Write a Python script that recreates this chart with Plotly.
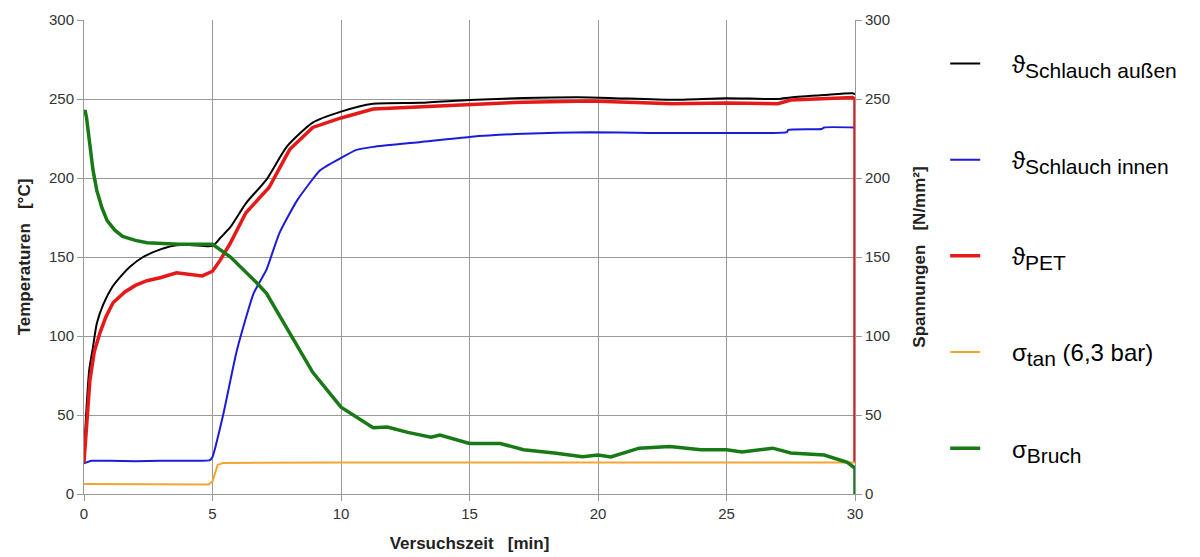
import plotly.graph_objects as go

# ---- data ----
t_aussen = [0, 0.05, 0.1, 0.2, 0.35, 0.5, 0.75, 1.1, 1.5, 1.8, 2.3, 3.0, 3.6, 4.2, 5.0, 5.3, 5.7, 6.3, 7.1, 7.9, 8.9,
            10.0, 11.25, 13.1, 15.0, 17.1, 19.7, 22.9, 25.0, 27.0, 27.5, 28.8, 29.9, 30]
v_aussen = [20, 40, 55, 78, 93, 108, 120, 131, 139, 144, 150, 155, 157.5, 157.5, 157, 162, 169, 184, 199, 220, 235,
            242, 247, 247.6, 249.4, 250.6, 251, 249.5, 250.5, 250, 251, 252.5, 253.6, 253]

t_pet = [0, 0.1, 0.23, 0.4, 0.62, 0.85, 1.13, 1.6, 2.0, 2.45, 3.0, 3.6, 4.2, 4.6, 5.0, 5.3, 5.7, 6.3, 7.2, 8.0, 8.9,
         10.0, 11.25, 13.1, 15.0, 17.1, 19.7, 22.9, 25.0, 27.0, 27.5, 28.8, 29.9, 30, 30]
v_pet = [20, 45, 72, 90, 102, 112, 121, 128, 132, 135, 137, 140, 139, 138, 141, 148, 159, 178, 194, 218, 232,
         238, 243.7, 245, 246, 248, 248.8, 247, 247.5, 247, 249.4, 250.5, 251, 250, 20]

t_innen = [0, 0.3, 1, 2, 3, 4, 4.9, 5.0, 5.4, 5.95, 6.6, 7.1, 7.6, 8.3, 9.2, 10.0, 10.6, 11.25, 13.1, 15.0,
           17.1, 19.7, 22, 25.0, 27.35, 27.4, 28.7, 28.8, 30]
v_innen = [19.5, 21, 21, 20.8, 21, 21, 21.5, 23.4, 49, 91, 127, 142, 165, 186, 205, 212.7, 217.8, 219.7, 222.8, 226,
           228, 229, 228.5, 228.5, 229, 230.4, 231, 232, 232]

t_tan = [0, 4.85, 5.0, 5.2, 5.4, 10, 20, 30]
v_tan = [6.3, 6.0, 8.0, 18.4, 19.6, 20, 20, 20]

t_bruch = [0, 0.04, 0.1, 0.23, 0.35, 0.5, 0.7, 0.9, 1.2, 1.5, 2.0, 2.45, 3.7, 5.0, 5.7, 6.7, 7.1, 8.0, 8.9, 10.0,
           11.25, 11.8, 12.6, 13.5, 13.85, 15.0, 16.2, 17.1, 18.3, 19.4, 20.0, 20.5, 21.6, 22.8, 24.0, 25.0, 25.6,
           26.8, 27.5, 28.8, 29.7, 29.95, 30, 30]
v_bruch = [240, 243, 238, 220, 205, 192, 181, 173, 167, 163, 160.5, 159, 158, 158, 150, 134, 127, 102, 77, 55,
           42, 42.4, 39, 36, 37.3, 32, 32, 28, 26, 23.6, 24.7, 23.5, 29, 30, 28, 28, 26.6,
           29, 26, 24.7, 20, 17, 17, 0]

x_ticks = [0, 5, 10, 15, 20, 25, 30]
y_ticks = [0, 50, 100, 150, 200, 250, 300]

FONT = "Liberation Sans, Arial, sans-serif"
SUBSZ = 21
PAD = "    "

names = [
    PAD + "ϑ<sub><span style='font-size:%dpx'>Schlauch außen</span></sub>" % SUBSZ,
    PAD + "ϑ<sub><span style='font-size:%dpx'>Schlauch innen</span></sub>" % SUBSZ,
    PAD + "ϑ<sub><span style='font-size:%dpx'>PET</span></sub>" % SUBSZ,
    PAD + "σ<sub><span style='font-size:%dpx'>tan</span></sub> (6,3 bar)" % SUBSZ,
    PAD + "σ<sub><span style='font-size:%dpx'>Bruch</span></sub>" % SUBSZ,
]

fig = go.Figure()
fig.add_trace(go.Scatter(x=t_aussen, y=v_aussen, mode="lines", name=names[0], legendgroup="a",
                         line=dict(color="#000000", width=2, shape="spline", smoothing=0.6)))
fig.add_trace(go.Scatter(x=t_innen, y=v_innen, mode="lines", name=names[1], legendgroup="b",
                         line=dict(color="#1c1cd8", width=2, shape="spline", smoothing=0.5)))
fig.add_trace(go.Scatter(x=t_pet, y=v_pet, mode="lines", name=names[2], legendgroup="c",
                         line=dict(color="#e61919", width=3.5)))
fig.add_trace(go.Scatter(x=t_tan, y=v_tan, mode="lines", name=names[3], legendgroup="d", yaxis="y2",
                         line=dict(color="#f2a630", width=2)))
fig.add_trace(go.Scatter(x=t_bruch, y=v_bruch, mode="lines", name=names[4], legendgroup="e", yaxis="y2",
                         line=dict(color="#177a17", width=3.5)))

tickfont = dict(family=FONT, size=15, color="#333333")
axis_common = dict(showgrid=True, gridcolor="#999999", gridwidth=1, showline=True, linecolor="#999999",
                   linewidth=1, ticks="outside", ticklen=6, tickcolor="#999999", zeroline=False,
                   tickfont=tickfont)

fig.update_layout(
    width=1200, height=557,
    margin=dict(l=84, r=345, t=20, b=63),
    paper_bgcolor="white", plot_bgcolor="white",
    font=dict(family=FONT, color="#000000"),
    xaxis=dict(range=[0, 30], tickvals=x_ticks, automargin=False,
               title=dict(text="<b>Versuchszeit   [min]</b>", font=dict(size=17, family=FONT, color="#222222"),
                          standoff=16),
               **axis_common),
    yaxis=dict(range=[0, 300], tickvals=y_ticks, automargin=False,
               title=dict(text="<b>Temperaturen   [°C]</b>", font=dict(size=17, family=FONT, color="#222222"),
                          standoff=14),
               **axis_common),
    yaxis2=dict(range=[0, 300], tickvals=y_ticks, overlaying="y", side="right", showgrid=False,
                showline=True, linecolor="#999999", linewidth=1, ticks="outside", ticklen=6,
                tickcolor="#999999", zeroline=False, tickfont=tickfont, automargin=False,
                title=dict(text="<b>Spannungen   [N/mm²]</b>", font=dict(size=17, family=FONT, color="#222222"),
                           standoff=24)),
    legend=dict(x=1.117, y=0.955, xanchor="left", yanchor="top", tracegroupgap=62,
                font=dict(family=FONT, size=24, color="#000000"), bgcolor="rgba(0,0,0,0)"),
    showlegend=True,
)

fig.write_html("out.html")
